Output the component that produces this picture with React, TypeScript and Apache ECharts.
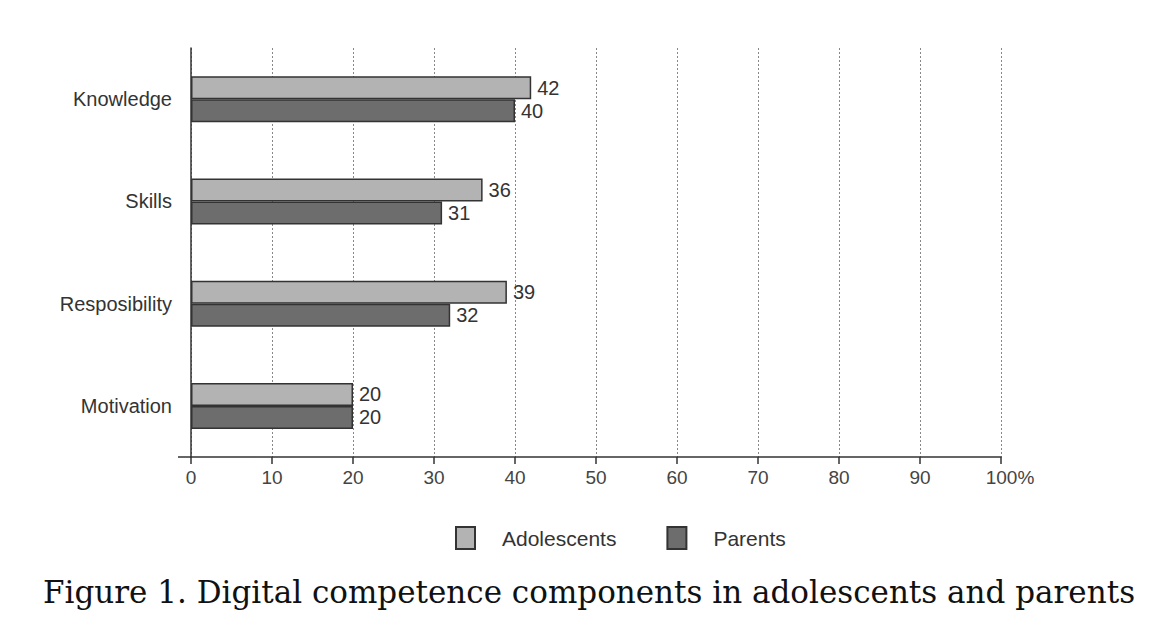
import React, { useEffect, useRef } from "react";
import * as echarts from "echarts";

const categories = ["Knowledge", "Skills", "Resposibility", "Motivation"];
const adolescents = [42, 36, 39, 20];
const parents = [40, 31, 32, 20];
const xTicks = [0, 10, 20, 30, 40, 50, 60, 70, 80, 90, 100];
const seriesNames = ["Adolescents", "Parents"];
const titleText = "Figure 1. Digital competence components in adolescents and parents";

export default function App() {
  const ref = useRef<HTMLDivElement>(null);
  useEffect(() => {
    if (!ref.current) return;
    const chart = echarts.init(ref.current, null, { renderer: "svg" });
    const font = "'Liberation Sans', Arial, sans-serif";
    const labelStyle = {
      show: true,
      position: "right" as const,
      distance: 6,
      fontFamily: font,
      fontSize: 20,
      color: "#333",
    };
    chart.setOption({
      animation: false,
      backgroundColor: "#fff",
      title: {
        text: titleText,
        left: 38,
        top: 571,
        textStyle: {
          fontFamily: "'DejaVu Serif', Georgia, serif",
          fontWeight: "normal",
          fontSize: 31,
          color: "#111",
        },
      },
      legend: {
        data: seriesNames,
        left: 450,
        top: 521,
        icon: "rect",
        itemWidth: 19,
        itemHeight: 22,
        itemGap: 50,
        textStyle: { fontFamily: font, fontSize: 21, color: "#333", padding: [0, 0, 0, 22] },
      },
      grid: { left: 191, right: 159, top: 48, bottom: 181 },
      xAxis: {
        type: "value",
        min: xTicks[0],
        max: xTicks[xTicks.length - 1],
        interval: 10,
        axisLine: { show: true, lineStyle: { color: "#333", width: 1.5 } },
        axisTick: { show: true, length: 7, lineStyle: { color: "#333", width: 1.5 } },
        axisLabel: {
          fontFamily: font,
          fontSize: 19,
          color: "#444",
          margin: 11,
          formatter: (v: number) => (v === 100 ? "{p|100%}" : String(v)),
          rich: { p: { fontFamily: font, fontSize: 19, color: "#444", padding: [0, 0, 0, 18] } },
        },
        splitLine: { show: true, lineStyle: { color: "#888", type: [2, 2], width: 1 } },
      },
      yAxis: {
        type: "category",
        data: categories,
        inverse: true,
        axisLine: { show: true, lineStyle: { color: "#333", width: 1.5 } },
        axisTick: { show: false },
        axisLabel: { fontFamily: font, fontSize: 20, color: "#333", margin: 19 },
      },
      graphic: [
        {
          type: "line",
          shape: { x1: 178, y1: 457, x2: 191, y2: 457 },
          style: { stroke: "#333", lineWidth: 1.5 },
        },
      ],
      series: [
        {
          name: seriesNames[0],
          type: "bar",
          data: adolescents,
          barWidth: 23,
          barGap: "0%",
          itemStyle: { color: "#b3b3b3", borderColor: "#333", borderWidth: 1.5 },
          label: labelStyle,
        },
        {
          name: seriesNames[1],
          type: "bar",
          data: parents,
          barWidth: 23,
          itemStyle: { color: "#6d6d6d", borderColor: "#333", borderWidth: 1.5 },
          label: labelStyle,
        },
      ],
    });
    return () => chart.dispose();
  }, []);
  return (
    <div
      ref={ref}
      style={{ position: "fixed", left: 0, top: 0, width: 1160, height: 638, background: "#fff" }}
    />
  );
}
